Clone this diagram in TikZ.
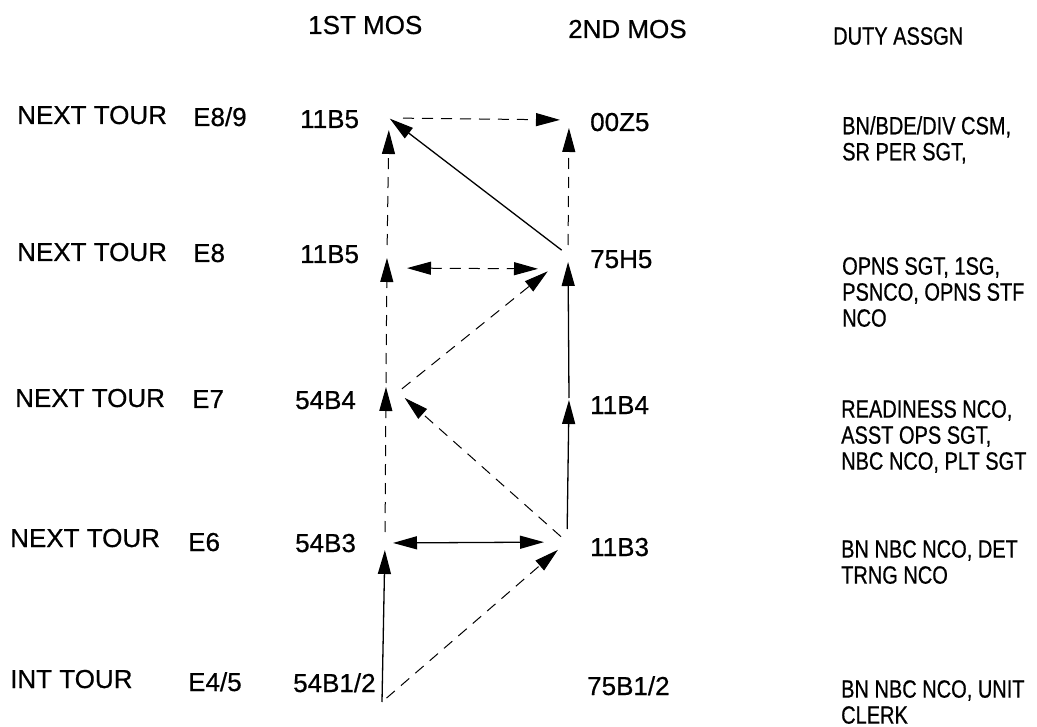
\documentclass[tikz,border=0pt]{standalone}
\usepackage{fontspec}
\setmainfont[FakeBold=0.6]{Liberation Sans}
\newfontfamily\narrowfont[FakeStretch=0.8,FakeBold=0.6]{Liberation Sans}
\usetikzlibrary{arrows.meta}

\begin{document}
\begin{tikzpicture}[x=1pt, y=-1pt,
    >={Triangle[length=24pt,width=13pt]},
    lbl/.style={anchor=base west, inner sep=0pt, font=\fontsize{26}{30}\selectfont},
    duty/.style={anchor=north west, inner sep=0pt, align=left, font=\narrowfont\fontsize{25}{26}\selectfont},
    link/.style={line width=1.3pt, ->},
    dashlink/.style={line width=1pt, dash pattern=on 11pt off 8pt, ->}]
    \useasboundingbox (0,0) rectangle (1037,727);
    % headings
    \node[lbl] (h1) at (308,34) {1ST MOS};
    \node[lbl] (h2) at (568,38) {2ND MOS};
    \node[duty] (h3) at (833,27) {DUTY ASSGN};
    % tours and grades
    \node[lbl] (t1) at (17,124) {NEXT TOUR};
    \node[lbl] (t2) at (17,261) {NEXT TOUR};
    \node[lbl] (t3) at (15,407) {NEXT TOUR};
    \node[lbl] (t4) at (10,547) {NEXT TOUR};
    \node[lbl] (t5) at (10,688) {INT TOUR};
    \node[lbl] (g1) at (193,126) {E8/9};
    \node[lbl] (g2) at (193,262) {E8};
    \node[lbl] (g3) at (192,408) {E7};
    \node[lbl] (g4) at (188,551) {E6};
    \node[lbl] (g5) at (188,691) {E4/5};
    % 1st and 2nd MOS
    \node[lbl] (m1) at (300,128) {11B5};
    \node[lbl] (m2) at (300,263) {11B5};
    \node[lbl] (m3) at (295,409) {54B4};
    \node[lbl] (m4) at (295,552) {54B3};
    \node[lbl] (m5) at (293,692) {54B1/2};
    \node[lbl] (n1) at (590,131) {00Z5};
    \node[lbl] (n2) at (590,268) {75H5};
    \node[lbl] (n3) at (590,414) {11B4};
    \node[lbl] (n4) at (590,556) {11B3};
    \node[lbl] (n5) at (587,695) {75B1/2};
    % duty assignments
    \node[duty] (d1) at (842,116) {BN/BDE/DIV CSM,\\SR PER SGT,};
    \node[duty] (d2) at (842,257) {OPNS SGT, 1SG,\\PSNCO, OPNS STF\\NCO};
    \node[duty] (d3) at (841,400) {READINESS NCO,\\ASST OPS SGT,\\NBC NCO, PLT SGT};
    \node[duty] (d4) at (841,540) {BN NBC NCO, DET\\TRNG NCO};
    \node[duty] (d5) at (841,680) {BN NBC NCO, UNIT\\CLERK};
    % arrow ends
    \coordinate (a1) at (389,118);
    \coordinate (a2) at (387,255);
    \coordinate (a3) at (386,385);
    \coordinate (a3d) at (398,392);
    \coordinate (a4) at (385,543);
    \coordinate (a5) at (382,702);
    \coordinate (b1) at (569,120);
    \coordinate (b2) at (568,255);
    \coordinate (b3) at (569,398);
    \coordinate (b4) at (567,542);
    % career paths
    \draw[dashlink, shorten <=10pt, shorten >=12pt] (a2) -- (a1);
    \draw[dashlink, shorten <=14pt, shorten >=9pt] (a1) -- (b1);
    \draw[dashlink, shorten <=10pt, shorten >=8pt] (b2) -- (b1);
    \draw[link, shorten <=8pt, shorten >=1pt] (b2) -- (a1);
    \draw[dashlink, <->, shorten <=20pt, shorten >=30pt] ([yshift=-13pt]a2) -- ([yshift=-14pt]b2);
    \draw[dashlink, shorten <=2pt, shorten >=3pt] (a3) -- (a2);
    \draw[dashlink, shorten <=5pt, shorten >=26pt] (a3d) -- (b2);
    \draw[link, shorten >=7pt] (b3) -- (b2);
    \draw[dashlink, shorten <=8pt, shorten >=9pt] (b4) -- (a3d);
    \draw[dashlink, shorten <=11pt, shorten >=2pt] (a4) -- (a3);
    \draw[link, shorten <=13pt, shorten >=2pt] (b4) -- (b3);
    \draw[link, <->, shorten <=8pt, shorten >=23pt] (a4) -- (b4);
    \draw[dashlink, shorten <=6pt, shorten >=12pt] (a5) -- (b4);
    \draw[link, shorten >=7pt] (a5) -- (a4);
\end{tikzpicture}
\end{document}
